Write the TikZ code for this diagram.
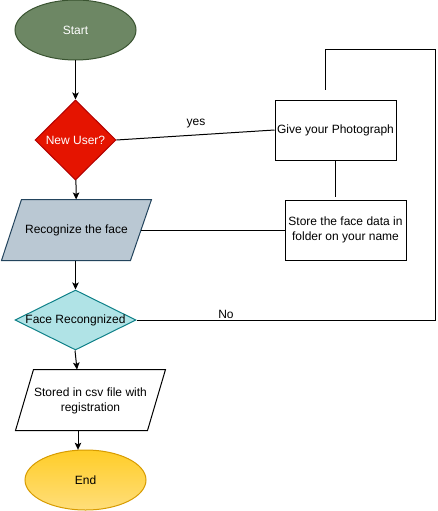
\documentclass[tikz,border=0pt]{standalone}
\usepackage{fontspec}
\setmainfont{Liberation Sans}
\usetikzlibrary{shapes.geometric,arrows.meta,backgrounds,calc}
\definecolor{startfill}{HTML}{6D8764}
\definecolor{startline}{HTML}{3A5431}
\definecolor{redfill}{HTML}{E51400}
\definecolor{redline}{HTML}{B20000}
\definecolor{recfill}{HTML}{BAC8D3}
\definecolor{recline}{HTML}{23445D}
\definecolor{facefill}{HTML}{B0E3E6}
\definecolor{faceline}{HTML}{0E8088}
\definecolor{endtop}{HTML}{FFCD28}
\definecolor{endbot}{HTML}{FFDE7A}
\definecolor{endline}{HTML}{D79B00}
\begin{document}
\begin{tikzpicture}[x=1pt,y=-1pt,
  font=\fontsize{12}{15}\selectfont,
  every path/.style={line width=1pt},
  arr/.style={-{Stealth[length=7pt,width=6.5pt,inset=1.5pt]}},
  plain/.style={inner sep=0pt, align=center},
  procbox/.style={draw, minimum width=121pt, minimum height=60pt, inner sep=0pt, align=center}]
\useasboundingbox (0,0) rectangle (437,511);

% left column
\node[ellipse, draw=startline, fill=startfill, minimum width=121pt, minimum height=60pt, text=white, inner sep=0pt] (start) at (75.5,30) {Start};
\node[diamond, draw=redline, fill=redfill, minimum width=81pt, minimum height=80pt, inner sep=0pt] (newuser) at (75.5,140) {};
\node[plain, text=white] (newuserlabel) at (newuser) {New User?};
\node[plain, minimum width=149pt, minimum height=60pt] (rec) at (76.5,230) {Recognize the face};
\node[diamond, draw=faceline, fill=facefill, minimum width=121pt, minimum height=60pt, inner sep=0pt] (face) at (75.5,320) {};
\node[plain] (facelabel) at (face) {Face Recongnized};
\node[plain, minimum width=149pt, minimum height=60pt] (stored) at (90.5,401) {Stored in csv file with\\registration};
\node[ellipse, draw=endline, top color=endtop, bottom color=endbot, minimum width=121pt, minimum height=60pt, inner sep=0pt] (end) at (85.5,480) {End};

% right column
\node[procbox] (give) at (335.5,130) {Give your Photograph};
\node[procbox] (store) at (345.5,230) {Store the face data in\\folder on your name};

\begin{scope}[on background layer]
  \filldraw[draw=recline, fill=recfill] ($(rec.north west)+(20,0)$) -- (rec.north east) -- ($(rec.south east)+(-21,0)$) -- (rec.south west) -- cycle;
  \filldraw[draw=black, fill=white] ($(stored.north west)+(18,-1)$) -- ($(stored.north east)+(0,-1)$) -- ($(stored.south east)+(-18,-1)$) -- ($(stored.south west)+(0,-1)$) -- cycle;
\end{scope}

% arrows
\draw[arr] (start) -- (newuser);
\draw[arr] (newuser) -- (rec);
\draw[arr] ($(rec.south)+(-1,0)$) -- (face.north);
\draw[arr] ($(face.south)+(-0.5,0)$) -- ($(stored.north)+(-13.5,-1)$);
\draw[arr] ($(stored.south)+(-12.5,-1)$) -- ($(stored.south |- end.north)+(-12.5,0.3)$);

% lines
\draw (newuser.east) -- (give.west);
\node[plain] (yes) at (196,124) {yes};
\draw (give.south) -- ($(give.south |- store.north)+(0,-3)$);
\draw ($(rec.east)+(-10.5,0)$) -- (store.west);
\draw ($(give.north)+(-10.5,-10)$) -- ++(0,-40) -| ($(face.east)+(299,0)$) -- (face.east);
\node[plain] (no) at (226,314) {No};
\end{tikzpicture}
\end{document}
